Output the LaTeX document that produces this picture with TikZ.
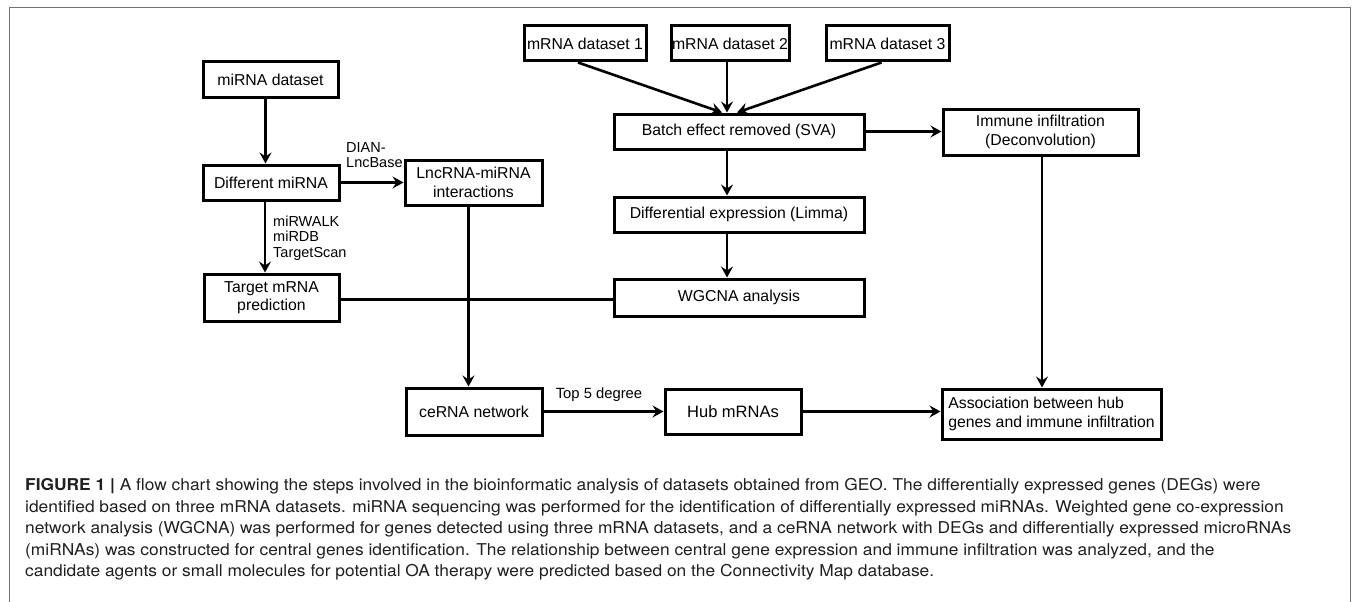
\documentclass[tikz,border=0pt]{standalone}
\usepackage{fontspec}
\setmainfont{Liberation Sans}
\newfontfamily\capfont[FakeStretch=1.065]{TeX Gyre Heros}
\usetikzlibrary{arrows.meta}
\tikzset{
  box/.style={draw, line width=3pt, inner sep=0pt, align=center,
    font=\fontsize{15.8}{18.5}\selectfont},
  lbl/.style={inner sep=0pt, align=left, font=\fontsize{14.5}{15.5}\selectfont},
  conn/.style={line width=2.6pt, -{Stealth[length=11pt,width=12pt,inset=4pt]}},
  plain/.style={line width=2.6pt},
  frame/.style={draw=black!55, line width=1pt},
  captxt/.style={inner sep=0pt, anchor=base west, text=black!88,
    font=\capfont\fontsize{16.3}{21.5}\selectfont}
}
\begin{document}
\begin{tikzpicture}[x=1pt,y=-1pt]
\useasboundingbox (0,0) rectangle (1355,602);
\draw[frame] (9,604) -- (9,8) -- (1350,8) -- (1350,604);

% left column
\node[box, minimum width=135pt, minimum height=35pt] (mirna) at (270.5,79.5) {miRNA dataset};
\node[box, minimum width=136pt, minimum height=35pt] (diffmi) at (271,182.5) {Different miRNA};
\node[box, minimum width=135pt, minimum height=47pt] (target) at (271.5,297.5) {Target mRNA\\prediction};
% middle column
\node[box, minimum width=137pt, minimum height=45pt] (lnc) at (473.5,182.5) {LncRNA-miRNA\\interactions};
\node[box, minimum width=136pt, minimum height=47pt] (cerna) at (474,411.5) {ceRNA network};
\node[box, minimum width=136pt, minimum height=45pt] (hub) at (733,411.5) {\fontsize{16.5}{20}\selectfont Hub mRNAs};
% right
\node[box, minimum width=122pt, minimum height=35pt] (m1) at (585,43.5) {mRNA dataset 1};
\node[box, minimum width=118pt, minimum height=35pt] (m2) at (730,43.5) {mRNA dataset 2};
\node[box, minimum width=123pt, minimum height=35pt] (m3) at (887.5,43.5) {mRNA dataset 3};
\node[box, minimum width=250pt, minimum height=35pt] (batch) at (739,131.5) {Batch effect removed (SVA)};
\node[box, minimum width=250pt, minimum height=35pt] (diffexp) at (739,214.5) {Differential expression (Limma)};
\node[box, minimum width=250pt, minimum height=37pt] (wgcna) at (739,297.5) {WGCNA analysis};
\node[box, minimum width=195pt, minimum height=46pt] (immune) at (1040.5,132) {Immune infiltration\\(Deconvolution)};
\node[box, minimum width=219pt, minimum height=50pt, align=left] (assoc) at (1051.5,414)
  {Association between hub\\genes and immune infiltration};

% labels
\node[lbl, anchor=west] (dian) at (346,155) {DIAN-\\LncBase};
\node[lbl, anchor=west] (tools) at (273,238) {miRWALK\\miRDB\\TargetScan};
\node[lbl, font=\fontsize{14.8}{16}\selectfont] (top5) at (599,395) {Top 5 degree};

% connectors
\coordinate (spine) at (727,0);
\draw[conn] ([xshift=-5pt]mirna.south) -- ([xshift=-5pt]mirna.south |- diffmi.north);
\draw[conn] ([xshift=-6pt]diffmi.south) -- ([xshift=-6pt]diffmi.south |- target.north);
\draw[conn] (diffmi.east) -- (diffmi.east -| lnc.west);
\draw[plain] ([yshift=-2pt]target.east) -- ([yshift=-2pt]target.east -| wgcna.west);
\draw[conn] ([xshift=-5pt]lnc.south) -- ([xshift=-5pt]lnc.south |- cerna.north);
\draw[conn] (cerna.east) -- (cerna.east -| hub.west);
\draw[conn] (hub.east) -- (hub.east -| assoc.west);
\draw[conn] ([xshift=-7pt]m1.south) -- ([xshift=-17pt]batch.north);
\draw[conn] (spine |- m2.south) -- (spine |- batch.north);
\draw[conn] ([xshift=-6pt]m3.south) -- ([xshift=-2pt]batch.north);
\draw[conn] (spine |- batch.south) -- (spine |- diffexp.north);
\draw[conn] (spine |- diffexp.south) -- (spine |- wgcna.north);
\draw[conn] (batch.east) -- (batch.east -| immune.west);
\draw[conn] ([xshift=1.5pt]immune.south) -- ([xshift=1.5pt]immune.south |- assoc.north);

% caption
\node[captxt] (cap1) at (25,490.5) {\textbf{FIGURE 1 |} A flow chart showing the steps involved in the bioinformatic analysis of datasets obtained from GEO. The differentially expressed genes (DEGs) were};
\node[captxt] (cap2) at (25,512) {identified based on three mRNA datasets. miRNA sequencing was performed for the identification of differentially expressed miRNAs. Weighted gene co-expression};
\node[captxt] (cap3) at (25,533.5) {network analysis (WGCNA) was performed for genes detected using three mRNA datasets, and a ceRNA network with DEGs and differentially expressed microRNAs};
\node[captxt] (cap4) at (25,555) {(miRNAs) was constructed for central genes identification. The relationship between central gene expression and immune infiltration was analyzed, and the};
\node[captxt] (cap5) at (25,576.5) {candidate agents or small molecules for potential OA therapy were predicted based on the Connectivity Map database.};
\end{tikzpicture}
\end{document}
